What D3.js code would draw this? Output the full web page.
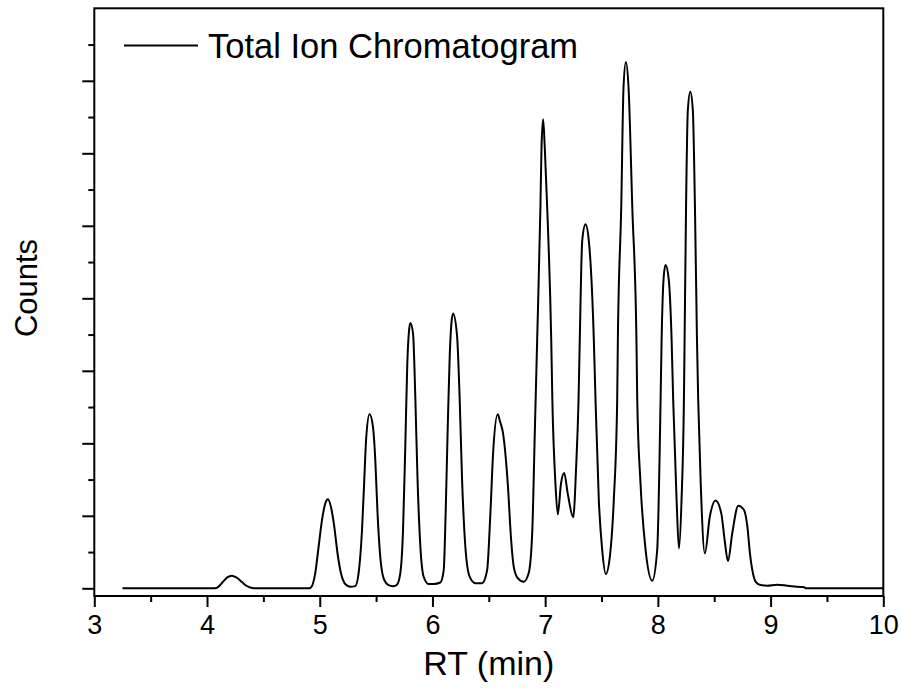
<!DOCTYPE html>
<html>
<head>
<meta charset="utf-8">
<script src="https://cdn.jsdelivr.net/npm/d3@7/dist/d3.min.js"></script>
<style>
  html, body { margin: 0; padding: 0; background: #fff; }
  svg { display: block; }
  text { font-family: "Liberation Sans", Arial, Helvetica, sans-serif; fill: #000; }
</style>
</head>
<body>
<svg id="chart" width="902" height="692"></svg>
<script>
// ---- data ----
const rt = [
  3.25, 4.00, 4.07, 4.10, 4.14, 4.18, 4.22, 4.26, 4.31, 4.35, 4.40, 4.44, 4.90,
  4.92, 4.96, 4.99, 5.02, 5.049, 5.073, 5.10, 5.129, 5.158, 5.188, 5.226, 5.271,
  5.315, 5.345, 5.375, 5.395, 5.413, 5.442, 5.472, 5.493, 5.513, 5.537, 5.567, 5.611,
  5.655, 5.685, 5.715, 5.739, 5.759, 5.777, 5.792, 5.804, 5.828, 5.848, 5.868, 5.893, 5.922,
  5.966, 6.01, 6.07, 6.10, 6.117, 6.135, 6.153, 6.168, 6.183, 6.218, 6.241, 6.263, 6.292,
  6.33, 6.381, 6.44, 6.485, 6.514, 6.538, 6.579, 6.60, 6.625, 6.668, 6.698, 6.721,
  6.757, 6.81, 6.854, 6.885, 6.908, 6.929, 6.958, 6.968, 6.982, 6.996, 7.018, 7.054, 7.064, 7.091,
  7.112, 7.141, 7.169, 7.20, 7.249, 7.275, 7.296, 7.307, 7.329, 7.358, 7.387, 7.432,
  7.447, 7.476, 7.506, 7.538, 7.575, 7.609, 7.639, 7.645, 7.675, 7.695, 7.716, 7.740,
  7.773, 7.81, 7.817, 7.846, 7.891, 7.95, 7.994, 8.024, 8.033, 8.052, 8.068, 8.097, 8.122,
  8.136, 8.166, 8.187, 8.21, 8.231, 8.237, 8.25, 8.266, 8.288, 8.31, 8.329, 8.347, 8.358, 8.38,
  8.417, 8.461, 8.512, 8.563, 8.592, 8.622, 8.66, 8.714, 8.764, 8.794, 8.817, 8.838,
  8.868, 8.912, 8.97, 9.06, 9.149, 9.267, 9.30, 9.31, 10.0
];
const counts = [
  0, 0, 0, 0.02, 0.087, 0.15, 0.174, 0.15, 0.087, 0.035, 0.005, 0, 0,
  0.01, 0.207, 0.573, 0.94, 1.17, 1.23, 1.12, 0.85, 0.48, 0.21, 0.06, 0.022,
  0.03, 0.21, 0.80, 1.49, 2.09, 2.40, 2.23, 1.77, 1.03, 0.435, 0.138, 0.045,
  0.03, 0.05, 0.21, 0.80, 1.95, 3.10, 3.55, 3.66, 3.51, 2.64, 1.49, 0.573, 0.16,
  0.06, 0.06, 0.08, 0.25, 1.03, 2.18, 3.19, 3.65, 3.79, 3.49, 2.64, 1.49, 0.573,
  0.16, 0.07, 0.07, 0.25, 1.03, 1.86, 2.40, 2.30, 2.15, 1.45, 0.67, 0.30,
  0.14, 0.09, 0.21, 0.76, 2.14, 3.42, 5.26, 6.10, 6.47, 6.10, 5.26, 3.42, 2.59, 1.45,
  1.02, 1.45, 1.59, 1.31, 0.98, 1.68, 2.59, 3.42, 4.80, 5.02, 4.80, 3.42,
  2.59, 1.22, 0.53, 0.197, 0.45, 1.22, 2.59, 3.42, 5.26, 6.90, 7.26, 6.90,
  5.26, 3.42, 2.59, 1.45, 0.53, 0.105, 0.53, 2.59, 3.42, 4.30, 4.46, 4.25, 3.42,
  2.59, 1.22, 0.55, 1.22, 2.59, 3.42, 5.26, 6.60, 6.85, 6.60, 5.26, 3.42, 2.59, 1.45,
  0.48, 0.99, 1.21, 1.03, 0.67, 0.376, 0.76, 1.14, 1.08, 0.85, 0.48, 0.25,
  0.09, 0.045, 0.036, 0.05, 0.036, 0.018, 0.015, 0, 0
];
const xMajorTicks = [3, 4, 5, 6, 7, 8, 9, 10];
const xMinorTicks = [3.5, 4.5, 5.5, 6.5, 7.5, 8.5, 9.5];
const yMajorTicks = [0, 1, 2, 3, 4, 5, 6, 7];
const yMinorTicks = [0.5, 1.5, 2.5, 3.5, 4.5, 5.5, 6.5, 7.5];
const seriesName = "Total Ion Chromatogram";
const xTitle = "RT (min)";
const yTitle = "Counts";

// ---- layout ----
const plotL = 94.3, plotR = 883.3, plotT = 8.3, plotB = 596;
const svg = d3.select("#chart");
svg.append("rect").attr("width", 902).attr("height", 692).attr("fill", "#fff");

const x = d3.scaleLinear().domain([3, 10]).range([plotL, plotR]);
const y = d3.scaleLinear().domain([-0.106, 8]).range([plotB, plotT]);

const data = rt.map((t, i) => ({ t, v: counts[i] }));

// curve
const line = d3.line().x(d => x(d.t)).y(d => y(d.v)).curve(d3.curveMonotoneX);
svg.append("path").datum(data)
  .attr("d", line).attr("fill", "none")
  .attr("stroke", "#000").attr("stroke-width", 2)
  .attr("stroke-linejoin", "round");

// axes
const gxMinor = svg.append("g").attr("transform", `translate(0,${plotB})`)
  .call(d3.axisBottom(x).tickValues(xMinorTicks).tickSize(6).tickFormat(""));
const gx = svg.append("g").attr("transform", `translate(0,${plotB})`)
  .call(d3.axisBottom(x).tickValues(xMajorTicks).tickSize(11).tickPadding(8).tickFormat(d3.format("d")));
const gyMinor = svg.append("g").attr("transform", `translate(${plotL},0)`)
  .call(d3.axisLeft(y).tickValues(yMinorTicks).tickSize(6).tickFormat(""));
const gy = svg.append("g").attr("transform", `translate(${plotL},0)`)
  .call(d3.axisLeft(y).tickValues(yMajorTicks).tickSize(12).tickFormat(""));

[gxMinor, gx, gyMinor, gy].forEach(g => {
  g.select(".domain").remove();
  g.selectAll(".tick line").attr("stroke", "#000").attr("stroke-width", 2);
});
gx.selectAll(".tick text")
  .attr("font-size", 27)
  .attr("font-family", "'Liberation Sans', Arial, sans-serif")
  .attr("fill", "#000");

// frame
svg.append("rect")
  .attr("x", plotL).attr("y", plotT)
  .attr("width", plotR - plotL).attr("height", plotB - plotT)
  .attr("fill", "none").attr("stroke", "#000").attr("stroke-width", 2);

// axis titles
svg.append("text")
  .attr("x", (plotL + plotR) / 2).attr("y", 675)
  .attr("text-anchor", "middle").attr("font-size", 34)
  .text(xTitle);
svg.append("text")
  .attr("transform", "translate(37,288) rotate(-90)")
  .attr("text-anchor", "middle").attr("font-size", 31)
  .text(yTitle);

// legend
svg.append("line")
  .attr("x1", 124).attr("x2", 198).attr("y1", 45.5).attr("y2", 45.5)
  .attr("stroke", "#000").attr("stroke-width", 2);
svg.append("text")
  .attr("x", 208).attr("y", 58)
  .attr("font-size", 34.5)
  .text(seriesName);
</script>
</body>
</html>
